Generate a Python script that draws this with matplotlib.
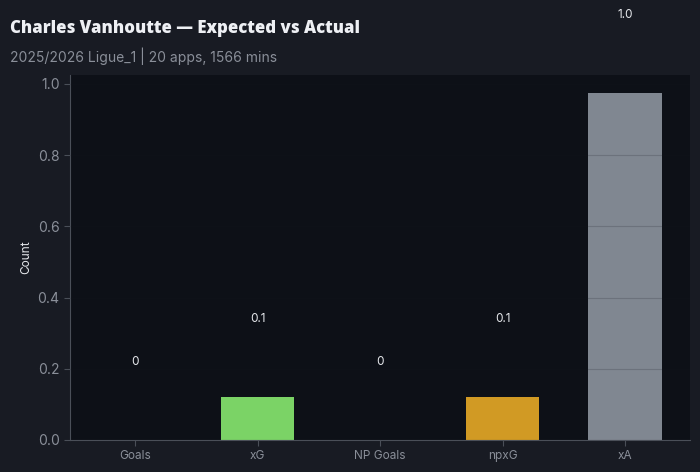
import matplotlib
matplotlib.use("Agg")
import matplotlib.pyplot as plt

categories = ["Goals", "xG", "NP Goals", "npxG", "xA"]
values = [0, 0.121, 0, 0.121, 0.975]
labels = ["0", "0.1", "0", "0.1", "1.0"]
colors = ["#7bd366", "#7bd366", "#d19a24", "#d19a24", "#808791"]

title = "Charles Vanhoutte \u2014 Expected vs Actual"
subtitle = "2025/2026 Ligue_1 | 20 apps, 1566 mins"

plt.rcParams['font.family'] = ['Inter', 'DejaVu Sans']

fig = plt.figure(figsize=(7, 4.72), dpi=100, facecolor="#181b23")
ax = fig.add_axes([0.1, 0.068, 0.886, 0.773])
ax.set_facecolor("#0d1017")

x = list(range(len(categories)))
ax.bar(x, values, width=0.6, color=colors, zorder=1)
ax.set_axisbelow(False)
ax.grid(axis="y", color="#13161e", alpha=0.18, linewidth=0.8, zorder=2)
ax.grid(axis="x", visible=False)

for xi, v, lab in zip(x, values, labels):
    ax.text(xi, v + 0.22, lab, ha="center", va="center", color="#e6e8ec",
            fontsize=8.5, clip_on=False)

ax.set_ylim(0, 1.025)
ax.set_xticks(x)
ax.set_xticklabels(categories)
ax.tick_params(axis="x", colors="#4a4f58", labelcolor="#8a8f99", labelsize=8.5, length=4)
ax.tick_params(axis="y", colors="#4a4f58", labelcolor="#8a8f99", labelsize=10, length=4)
ax.set_ylabel("Count", color="#e6e8ec", fontsize=8.5, labelpad=4)

for s in ["top", "right"]:
    ax.spines[s].set_visible(False)
for s in ["left", "bottom"]:
    ax.spines[s].set_color("#4a4f58")

fig.text(0.014, 0.94, title, color="#eef0f4", fontsize=12.1, fontweight="heavy",
         family=["Open Sans", "DejaVu Sans"], va="center")
fig.text(0.014, 0.881, subtitle, color="#8a8f99", fontsize=10, va="center")

fig.savefig("out.png", dpi=100, facecolor=fig.get_facecolor())
